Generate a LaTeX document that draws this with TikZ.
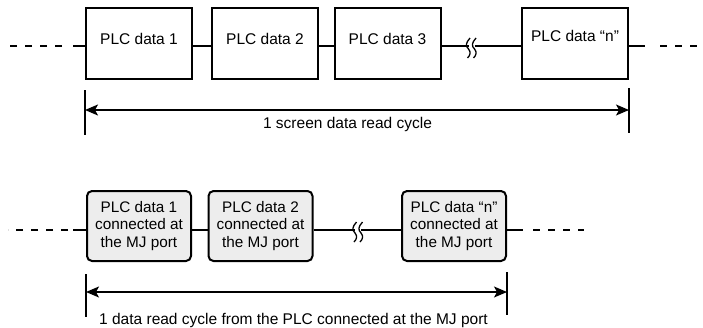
\documentclass[tikz,border=0pt]{standalone}
\usepackage{fontspec}
\setmainfont{Liberation Sans}
\usetikzlibrary{arrows.meta}

\tikzset{
  plcbox/.style={draw, line width=2pt, minimum width=106pt, minimum height=71pt,
    inner sep=0pt, font=\fontsize{15.5}{17.5}\selectfont, text height=11pt, text depth=9pt},
  mjbox/.style={draw, line width=2pt, rounded corners=5pt, fill=gray!14,
    minimum width=104pt, minimum height=70pt, inner sep=0pt, align=center,
    font=\fontsize{15.3}{17.5}\selectfont},
  link/.style={line width=1.3pt},
  dashlink/.style={line width=1.3pt, dash pattern=on 7pt off 8pt},
  tick/.style={line width=1.3pt},
  span/.style={line width=1.3pt, <->},
  spanlabel/.style={anchor=base, inner sep=0pt, font=\fontsize{15.5}{17.5}\selectfont},
  brk/.pic={
    \draw[line width=1.3pt] (-1.5,-8) .. controls (-6,-3) and (-6,0) .. (-3,3)
      .. controls (-0.5,6) and (-1,9) .. (-4,12);
    \draw[line width=1.3pt] (4.5,-8) .. controls (0,-3) and (0,0) .. (3,3)
      .. controls (5.5,6) and (5,9) .. (2,12);
  }
}

\begin{document}
\begin{tikzpicture}[x=1pt, y=-1pt, >={Stealth[length=13pt, width=11pt, inset=3pt]}]
  \useasboundingbox (0,0) rectangle (703,327);

  % Upper row: 1 screen
  \node[plcbox] (top1) at (139,43.5) {PLC data 1};
  \node[plcbox] (top2) at (265,43.5) {PLC data 2};
  \node[plcbox] (top3) at (387.5,43.5) {PLC data 3};
  \node[plcbox, text depth=15pt] (topn) at (575,43.5) {PLC data “n”};

  \coordinate (toprow) at (0,46);
  \coordinate (topL) at (8,46);
  \coordinate (topLd) at (62,46);
  \coordinate (topLs) at (73,46);
  \coordinate (topRs) at (645,46);
  \coordinate (topRd) at (660,46);
  \coordinate (topR) at (703,46);
  \coordinate (topbrk) at (471.5,46);

  \draw[dashlink] (topLd) -- (topL);
  \draw[link] (topLs) -- (top1.west |- toprow);
  \draw[link] (top1.east |- toprow) -- (top2.west |- toprow);
  \draw[link] (top2.east |- toprow) -- (top3.west |- toprow);
  \draw[link] (top3.east |- toprow) -- ([xshift=-3pt]topbrk);
  \draw[link] ([xshift=3pt]topbrk) -- (topn.west |- toprow);
  \draw[link] (topn.east |- toprow) -- (topRs);
  \draw[dashlink] (topRd) -- (topR);
  \pic at (topbrk) {brk};

  % Read cycle of the screen
  \draw[tick] (top1.west |- 0,90) -- (top1.west |- 0,135);
  \draw[tick] (topn.east |- 0,88) -- (topn.east |- 0,133);
  \draw[span] (top1.west |- 0,110) -- (topn.east |- 0,110);
  \node[spanlabel] (toplbl) at (347.5,128) {1 screen data read cycle};

  % Lower row: PLC at the MJ port
  \node[mjbox] (low1) at (139,226) {PLC data 1\\connected at\\the MJ port};
  \node[mjbox] (low2) at (260.5,226) {PLC data 2\\connected at\\the MJ port};
  \node[mjbox] (lown) at (454,226) {PLC data “n”\\connected at\\the MJ port};

  \coordinate (lowrow) at (0,230);
  \coordinate (lowL) at (8,230);
  \coordinate (lowLd) at (68,230);
  \coordinate (lowLs) at (73,230);
  \coordinate (lowRs) at (523,230);
  \coordinate (lowRd) at (533,230);
  \coordinate (lowR) at (584,230);
  \coordinate (lowbrk) at (358,230);

  \draw[dashlink] (lowLd) -- (lowL);
  \draw[link] (lowLs) -- (low1.west |- lowrow);
  \draw[link] (low1.east |- lowrow) -- (low2.west |- lowrow);
  \draw[link] (low2.east |- lowrow) -- ([xshift=-3pt]lowbrk);
  \draw[link] ([xshift=3pt]lowbrk) -- (lown.west |- lowrow);
  \draw[link] (lown.east |- lowrow) -- (lowRs);
  \draw[dashlink] (lowRd) -- (lowR);
  \pic at (lowbrk) {brk};

  % Read cycle of the MJ port PLC
  \draw[tick] (low1.west |- 0,274) -- (low1.west |- 0,317);
  \draw[tick] (lown.east |- 0,272) -- (lown.east |- 0,315);
  \draw[span] (low1.west |- 0,292) -- (lown.east |- 0,292);
  \node[spanlabel] (lowlbl) at (293.5,324) {1 data read cycle from the PLC connected at the MJ port};
\end{tikzpicture}
\end{document}
